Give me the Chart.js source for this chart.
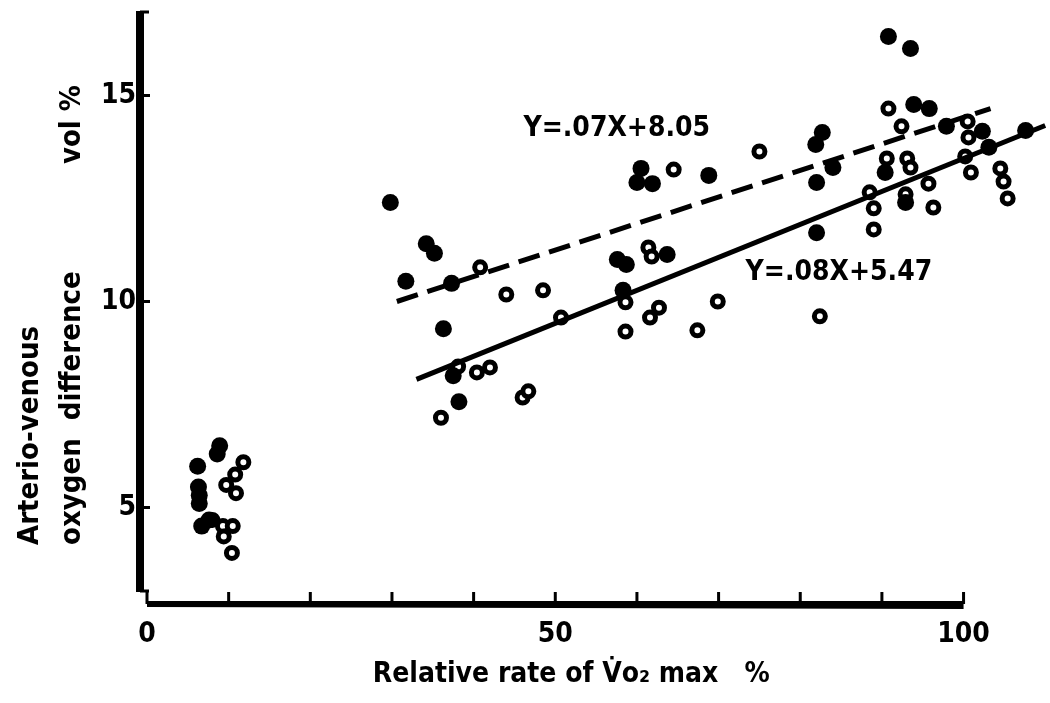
<!DOCTYPE html>
<html>
<head>
<meta charset="utf-8">
<title>A-V oxygen difference vs relative VO2 max</title>
<script src="https://cdn.jsdelivr.net/npm/chart.js@4.4.0/dist/chart.umd.min.js"></script>
<style>
  body { margin: 0; background: #fff; }
  #wrap { width: 1050px; height: 703px; }
</style>
</head>
<body>
<div id="wrap"><canvas id="myChart" width="1050" height="703"></canvas></div>
<script>
// filled circles
var filledX = [8.9, 8.6, 6.2, 6.3, 6.4, 6.4, 6.7, 7.6,
               29.8, 34.2, 35.2, 31.7, 37.3, 36.3, 37.5, 38.2,
               60.5, 60.0, 61.9, 68.8, 57.6, 58.7, 63.7, 58.3,
               90.8, 93.5, 93.9, 95.8, 97.9, 102.3, 107.6, 103.1, 90.4, 92.9,
               82.7, 81.9, 84.0, 82.0, 82.0];
var filledY = [6.5, 6.3, 6.0, 5.5, 5.3, 5.1, 4.55, 4.7,
               12.4, 11.4, 11.17, 10.49, 10.44, 9.34, 8.2, 7.57,
               13.23, 12.89, 12.86, 13.06, 11.02, 10.9, 11.14, 10.27,
               16.43, 16.14, 14.78, 14.68, 14.25, 14.13, 14.15, 13.74, 13.13, 12.4,
               14.1, 13.81, 13.25, 12.89, 11.67];

// open circles
var openX = [11.8, 10.8, 9.7, 10.9, 8.0, 9.3, 10.5, 9.4, 10.4,
             40.8, 44.0, 48.5, 50.7, 38.1, 40.4, 42.0, 46.0, 46.7, 36.0,
             64.5, 75.0, 61.4, 61.8, 58.6, 61.6, 62.7, 69.9, 58.6, 67.4,
             90.8, 92.4, 100.5, 100.6, 100.2, 100.9, 90.6, 93.1, 93.5, 95.7,
             88.5, 92.9, 89.0, 96.3, 104.5, 104.9, 105.4, 89.0, 82.4];
var openY = [6.1, 5.8, 5.55, 5.35, 4.7, 4.55, 4.55, 4.3, 3.9,
             10.83, 10.17, 10.27, 9.61, 8.42, 8.28, 8.4, 7.67, 7.82, 7.18,
             13.2, 13.64, 11.31, 11.09, 9.98, 9.61, 9.85, 10.0, 9.27, 9.3,
             14.68, 14.25, 14.37, 13.98, 13.52, 13.13, 13.47, 13.47, 13.25, 12.86,
             12.65, 12.6, 12.26, 12.28, 13.23, 12.91, 12.5, 11.75, 9.64];

// regression lines (ends as drawn)
var dashedLineX = [30.6, 103.3];
var dashedLineY = [10.0, 14.68];
var solidLineX = [33.0, 110.0];
var solidLineY = [8.11, 14.27];

var xTickLabels = [0, 50, 100];
var xMinorTicks = [0, 10, 20, 30, 40, 50, 60, 70, 80, 90, 100];
var yTickLabels = [5, 10, 15];

function toPoints(xs, ys) {
    var pts = [];
    for (var i = 0; i < xs.length; i++) pts.push({x: xs[i], y: ys[i]});
    return pts;
}

var fontFam = "'DejaVu Sans Condensed', 'Liberation Sans Narrow', 'DejaVu Sans', sans-serif";

// axes are drawn by hand: detached, thick, ticks pointing inward
var handAxes = {
    id: 'handAxes',
    afterDraw: function (chart) {
        var ctx = chart.ctx;
        var x = chart.scales.x, y = chart.scales.y;
        ctx.save();
        ctx.strokeStyle = '#000';
        ctx.fillStyle = '#000';

        // y axis
        var ax = x.getPixelForValue(0) - 7;
        var yb = y.getPixelForValue(3), yt = y.getPixelForValue(17);
        ctx.lineWidth = 8;
        ctx.beginPath();
        ctx.moveTo(ax, yb + 2);
        ctx.lineTo(ax, yt - 2);
        ctx.stroke();
        ctx.lineWidth = 3;
        ctx.beginPath();
        ctx.moveTo(ax, yt - 1); ctx.lineTo(ax + 9, yt - 1);
        ctx.moveTo(ax, yb + 1); ctx.lineTo(ax + 9, yb + 1);
        yTickLabels.forEach(function (v) {
            var py = y.getPixelForValue(v);
            ctx.moveTo(ax, py); ctx.lineTo(ax + 10, py);
        });
        ctx.stroke();

        // x axis
        var ay = yb + 14;
        var x0 = x.getPixelForValue(0), x1 = x.getPixelForValue(100);
        ctx.beginPath();
        ctx.moveTo(x0, ay - 3);
        ctx.lineTo(x1, ay - 3);
        ctx.lineTo(x1, ay + 5);
        ctx.lineTo(x0, ay + 3);
        ctx.closePath();
        ctx.fill();
        ctx.lineWidth = 3;
        ctx.beginPath();
        xMinorTicks.forEach(function (v) {
            var px = x.getPixelForValue(v);
            ctx.moveTo(px, ay); ctx.lineTo(px, ay - 12);
        });
        ctx.stroke();

        // y axis title, two lines rotated
        ctx.font = 'bold 29px ' + fontFam;
        ctx.textBaseline = 'middle';
        ctx.translate(30, 545);
        ctx.rotate(-Math.PI / 2);
        ctx.textAlign = 'left';
        ctx.fillText('Arterio-venous', 0, 0);
        ctx.fillText('oxygen  difference', 0, 42);
        ctx.textAlign = 'right';
        ctx.fillText('vol %', 460, 42);

        ctx.restore();
    }
};

// regression equations
var eqLabels = {
    id: 'eqLabels',
    afterDraw: function (chart) {
        var ctx = chart.ctx;
        var x = chart.scales.x, y = chart.scales.y;
        ctx.save();
        ctx.fillStyle = '#000';
        ctx.font = 'bold 28px ' + fontFam;
        ctx.textBaseline = 'middle';
        ctx.textAlign = 'left';
        ctx.fillText('Y=.07X+8.05', x.getPixelForValue(46.1), y.getPixelForValue(14.2));
        ctx.fillText('Y=.08X+5.47', x.getPixelForValue(73.3), y.getPixelForValue(10.7));
        ctx.restore();
    }
};

var ctx = document.getElementById('myChart').getContext('2d');

var chart = new Chart(ctx, {
    type: 'scatter',
    data: {
        datasets: [
            {
                data: toPoints(dashedLineX, dashedLineY),
                showLine: true,
                clip: false,
                borderColor: '#000',
                borderWidth: 5,
                borderDash: [22, 10],
                pointRadius: 0
            },
            {
                data: toPoints(solidLineX, solidLineY),
                showLine: true,
                clip: false,
                borderColor: '#000',
                borderWidth: 5,
                pointRadius: 0
            },
            {
                data: toPoints(filledX, filledY),
                clip: false,
                pointRadius: 8.5,
                pointBackgroundColor: '#000',
                pointBorderWidth: 0
            },
            {
                data: toPoints(openX, openY),
                clip: false,
                pointRadius: 5.5,
                pointBackgroundColor: '#fff',
                pointBorderColor: '#000',
                pointBorderWidth: 5
            }
        ]
    },
    options: {
        responsive: false,
        animation: false,
        layout: { padding: { top: 13, right: 1, left: 0, bottom: 0 } },
        plugins: {
            legend: { display: false },
            tooltip: { enabled: false }
        },
        scales: {
            x: {
                type: 'linear',
                min: 0,
                max: 109.3,
                grid: { display: false, drawTicks: false },
                border: { display: false },
                afterBuildTicks: function (scale) {
                    scale.ticks = xTickLabels.map(function (v) { return {value: v}; });
                },
                ticks: {
                    autoSkip: false,
                    maxRotation: 0,
                    padding: 28,
                    color: '#000',
                    font: { family: fontFam, size: 28, weight: 'bold' },
                    callback: function (v) { return String(v); }
                },
                title: {
                    display: true,
                    text: 'Relative rate of V\u0307o\u2082 max   %     ',
                    color: '#000',
                    font: { family: fontFam, size: 28, weight: 'bold' },
                    padding: { top: 0, bottom: 11 }
                },
                afterFit: function (scale) {
                    scale.height = 113;
                    scale.paddingLeft = 0;
                    scale.paddingRight = 0;
                }
            },
            y: {
                type: 'linear',
                min: 3,
                max: 17,
                grid: { display: false, drawTicks: false },
                border: { display: false },
                afterBuildTicks: function (scale) {
                    scale.ticks = yTickLabels.map(function (v) { return {value: v}; });
                },
                ticks: {
                    padding: 11,
                    color: '#000',
                    font: { family: fontFam, size: 28, weight: 'bold' },
                    callback: function (v) { return String(v); }
                },
                afterFit: function (scale) {
                    scale.width = 147;
                    scale.paddingTop = 0;
                    scale.paddingBottom = 0;
                }
            }
        }
    },
    plugins: [handAxes, eqLabels]
});
</script>
</body>
</html>
